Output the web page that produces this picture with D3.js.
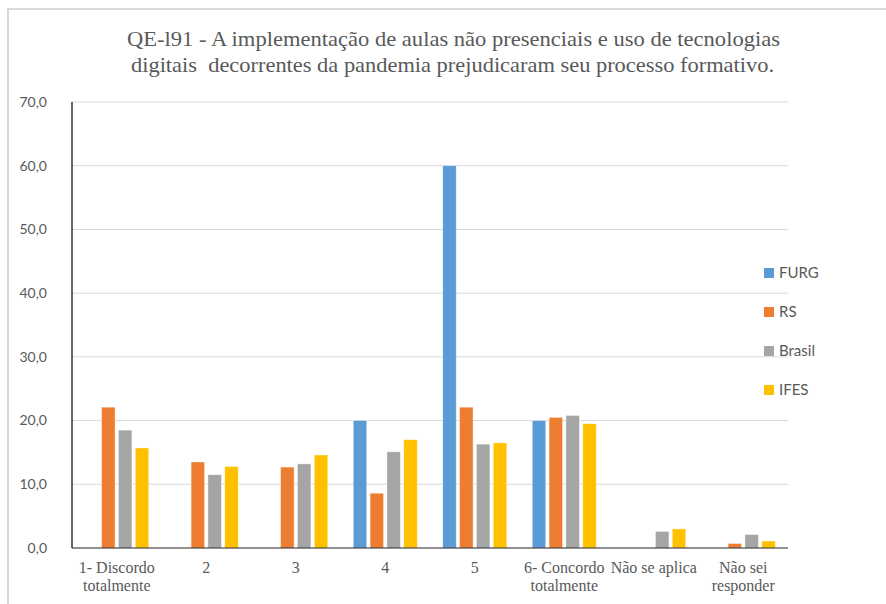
<!DOCTYPE html>
<html><head><meta charset="utf-8">
<script src="https://cdn.jsdelivr.net/npm/d3@7"></script>
<style>html,body{margin:0;padding:0;background:#fff;}</style>
</head><body>
<script>
const categories = [["1- Discordo","totalmente"],["2"],["3"],["4"],["5"],["6- Concordo","totalmente"],["Não se aplica"],["Não sei","responder"]];
const seriesNames = ["FURG","RS","Brasil","IFES"];
const colors = ["#5B9BD5","#ED7D31","#A5A5A5","#FFC000"];
const FURG   = [0, 0, 0, 20.0, 60.0, 20.0, 0, 0];
const RS     = [22.1, 13.5, 12.7, 8.6, 22.1, 20.5, 0, 0.7];
const Brasil = [18.5, 11.5, 13.2, 15.1, 16.3, 20.8, 2.6, 2.1];
const IFES   = [15.7, 12.8, 14.6, 17.0, 16.5, 19.5, 3.0, 1.1];
const yTicks = [0,10,20,30,40,50,60,70];
const titleLines = ["QE-l91 - A implementação de aulas não presenciais e uso de tecnologias","digitais  decorrentes da pandemia prejudicaram seu processo formativo."];
const series = [FURG, RS, Brasil, IFES];

(function(){
const W = 886, H = 604;
const svg = d3.select("body").append("svg").attr("width", W).attr("height", H);

// outer frame
svg.append("line").attr("x1",7).attr("x2",W).attr("y1",9).attr("y2",9).attr("stroke","#d9d9d9").attr("stroke-width",2);
svg.append("line").attr("x1",8).attr("x2",8).attr("y1",8).attr("y2",H).attr("stroke","#d9d9d9").attr("stroke-width",2);

const pL = 72, pR = 788, pT = 102, pB = 548;
const x0 = d3.scaleBand().domain(d3.range(categories.length)).range([pL, pR]).padding(0);
const x1 = d3.scaleBand().domain(d3.range(series.length)).range([0, 64]).paddingInner(0.2);
const y = d3.scaleLinear().domain([0,70]).range([pB, pT]);

// gridlines
svg.append("g").selectAll("line").data(yTicks.filter(d=>d>0)).join("line")
  .attr("x1", pL).attr("x2", pR).attr("y1", d=>y(d)).attr("y2", d=>y(d))
  .attr("stroke","#d9d9d9").attr("stroke-width",1);

// y tick labels
svg.append("g").selectAll("text").data(yTicks).join("text")
  .attr("x", 47).attr("y", d=>y(d)).attr("dy","0.35em").attr("text-anchor","end")
  .attr("font-family","Lato, 'Open Sans', sans-serif").attr("font-size",14).attr("fill","#595959")
  .text(d=>d3.format(".1f")(d).replace(".",","));

// bars
const off = (x0.bandwidth() - 64) / 2;
series.forEach((vals, si) => {
  svg.append("g").selectAll("rect").data(vals.map((v,i)=>({v,i})).filter(d=>d.v>0)).join("rect")
    .attr("x", d=>x0(d.i) + off + x1(si))
    .attr("width", x1.bandwidth())
    .attr("y", d=>y(d.v))
    .attr("height", d=>pB - y(d.v))
    .attr("fill", colors[si])
    .attr("stroke","#ffffff").attr("stroke-opacity",0.5).attr("stroke-width",0.75);
});

// axes lines
svg.append("line").attr("x1",pL).attr("x2",pL).attr("y1",pT).attr("y2",pB).attr("stroke","#000").attr("stroke-width",1.2);
svg.append("line").attr("x1",pL).attr("x2",pR).attr("y1",pB).attr("y2",pB).attr("stroke","#222").attr("stroke-width",1.2);

// x labels
const xl = svg.append("g").selectAll("text").data(categories).join("text")
  .attr("x", (d,i)=>x0(i)+x0.bandwidth()/2)
  .attr("y", 573).attr("text-anchor","middle")
  .attr("font-family","'Liberation Serif', 'Times New Roman', serif").attr("font-size",16).attr("fill","#595959");
xl.each(function(d){
  const t = d3.select(this);
  d.forEach((ln, k) => t.append("tspan").attr("x", t.attr("x")).attr("dy", k===0?0:18).text(ln));
});

// title
const tx = [[127,653],[131,643]];
svg.append("g").selectAll("text").data(titleLines).join("text")
  .attr("x", (d,i)=>tx[i][0]).attr("y", (d,i)=>46 + i*26)
  .attr("textLength", (d,i)=>tx[i][1]).attr("lengthAdjust","spacingAndGlyphs")
  .attr("font-family","'Liberation Serif', 'Times New Roman', serif").attr("font-size",21).attr("fill","#595959")
  .style("white-space","pre")
  .text(d=>d);

// legend
const lg = svg.append("g").selectAll("g").data(seriesNames).join("g")
  .attr("transform",(d,i)=>`translate(764,${273 + i*39})`);
lg.append("rect").attr("x",0).attr("y",-5).attr("width",10).attr("height",10).attr("fill",(d,i)=>colors[i]);
lg.append("text").attr("x",15).attr("y",0).attr("dy","0.35em")
  .attr("font-family","Lato, 'Open Sans', sans-serif").attr("font-size",15).attr("fill","#595959")
  .text(d=>d);
})();
</script>
</body></html>
